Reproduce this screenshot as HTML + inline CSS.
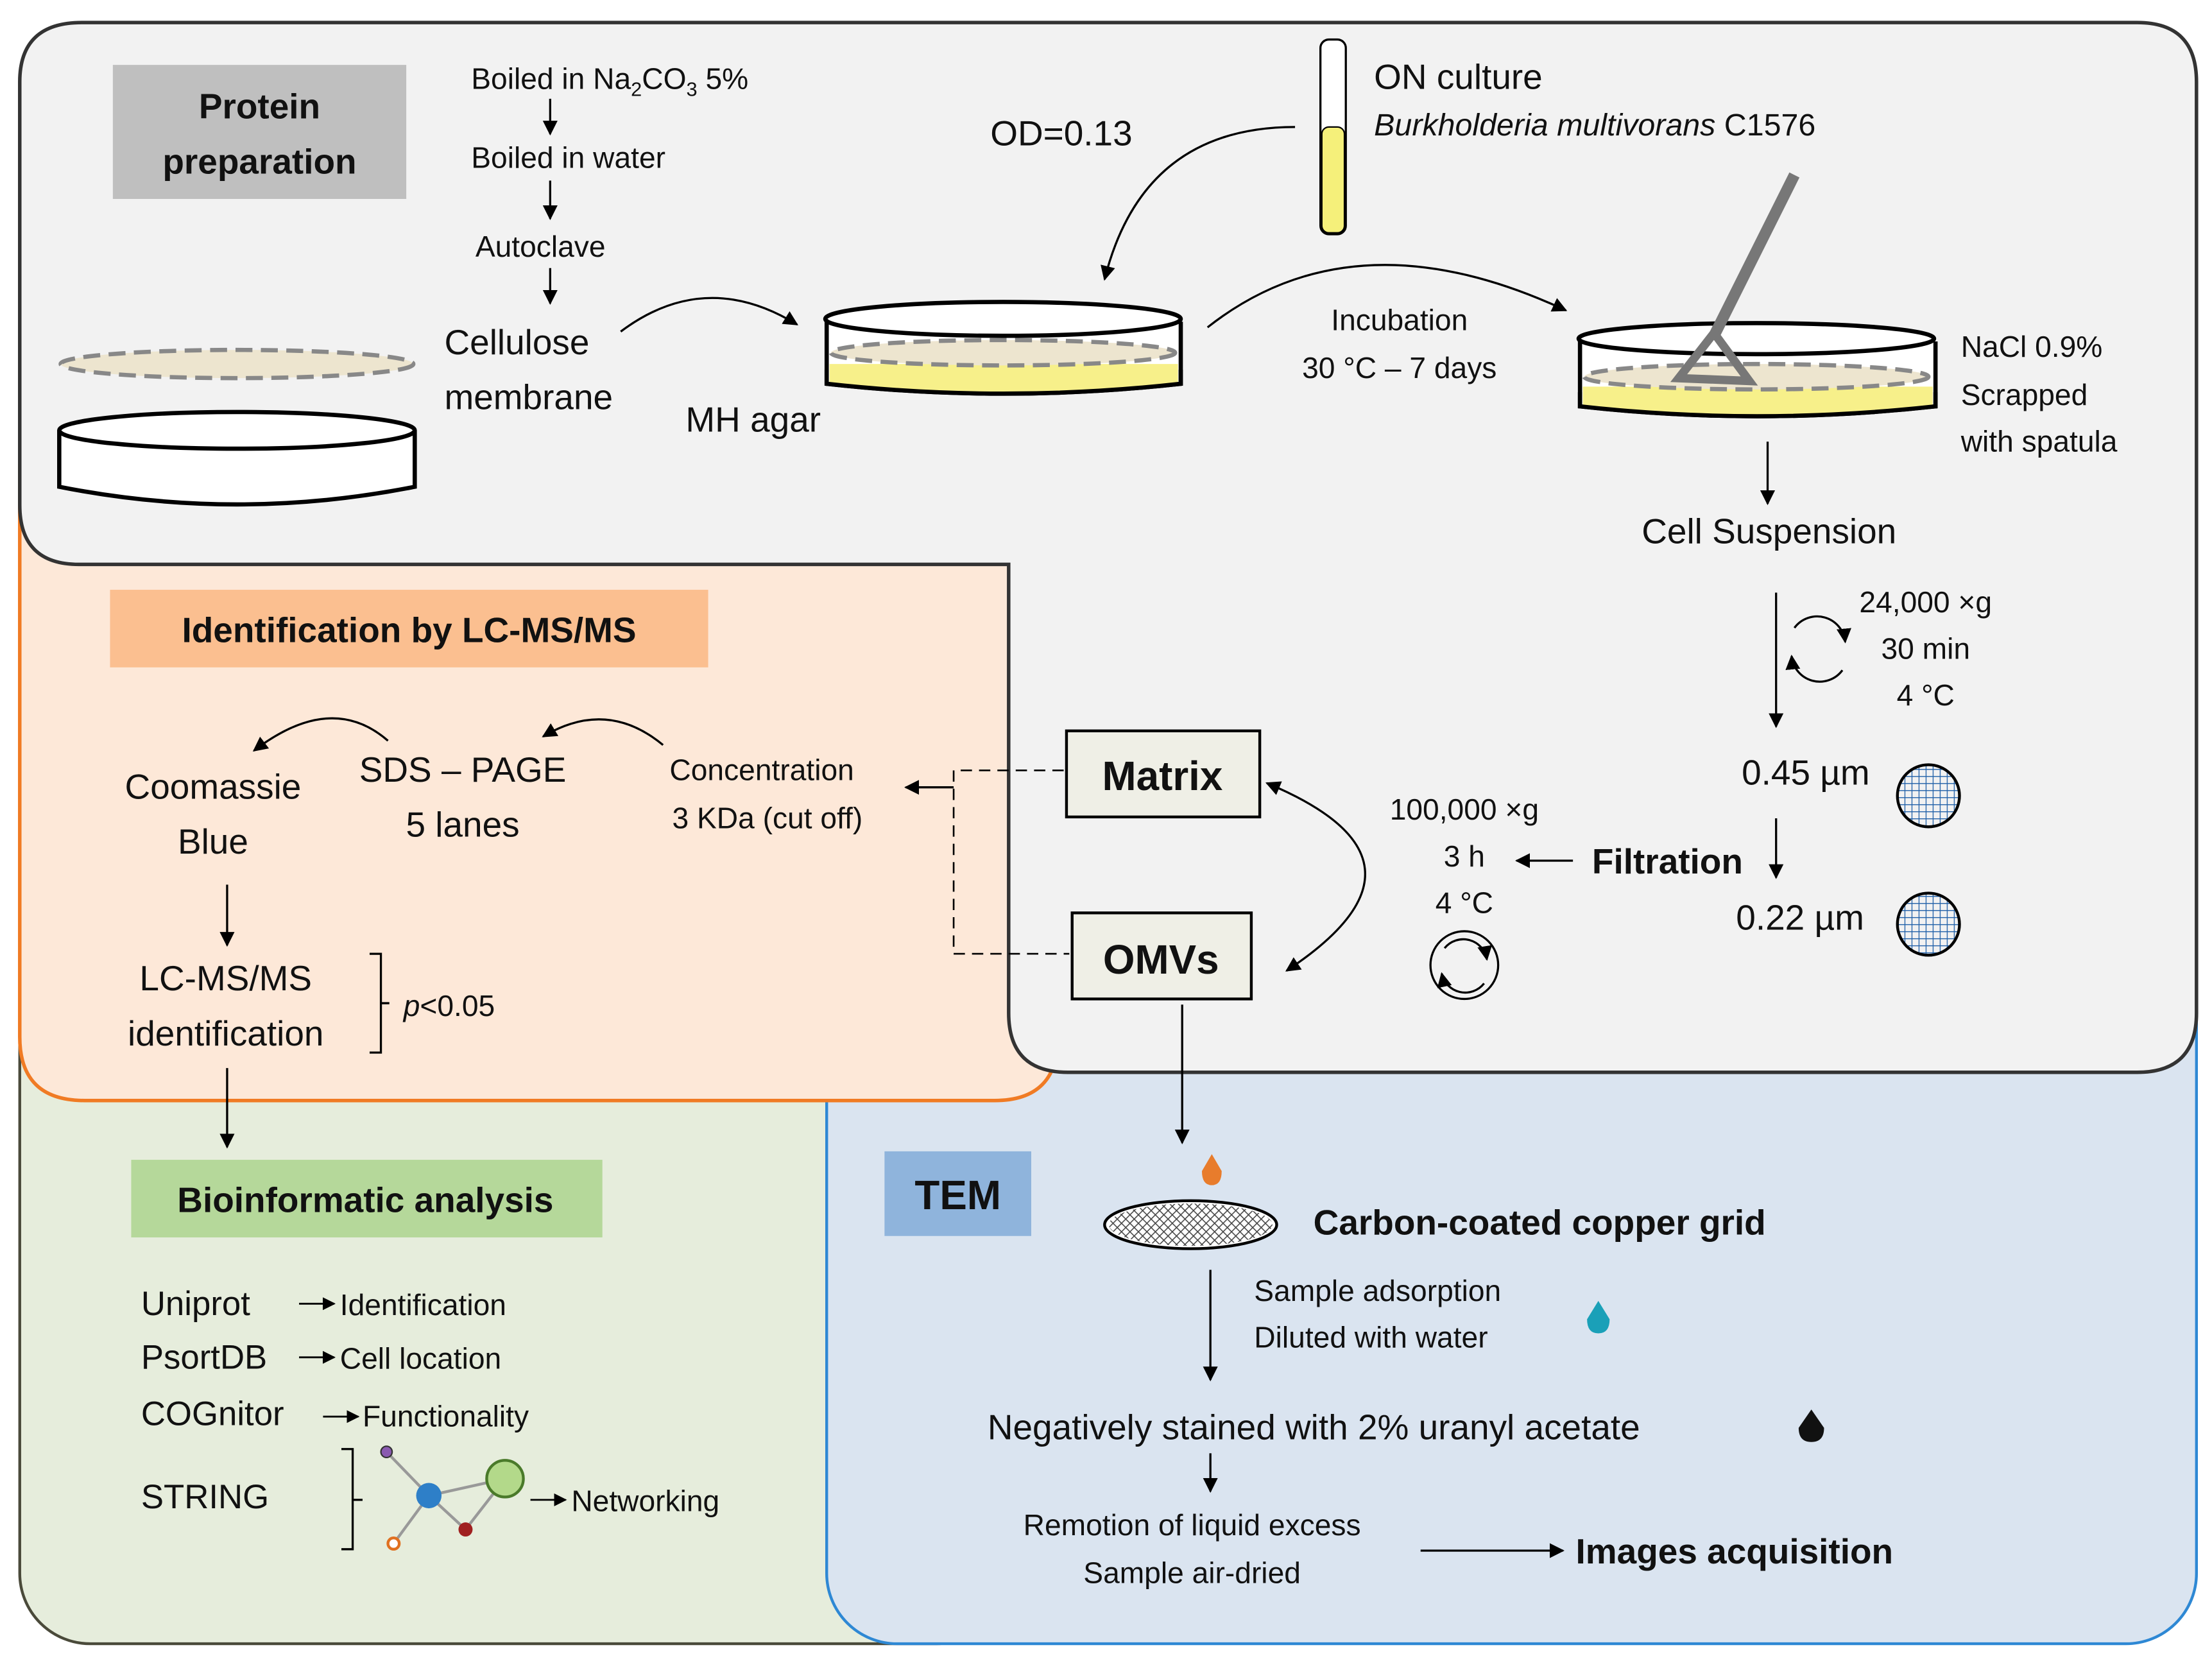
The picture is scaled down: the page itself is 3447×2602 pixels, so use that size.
<!DOCTYPE html>
<html><head><meta charset="utf-8"><style>
html,body{margin:0;padding:0;background:#fff;}
svg{display:block;}
text{font-family:"Liberation Sans",sans-serif;fill:#111;}
.b{font-weight:bold;}
</style></head><body>
<svg width="3447" height="2602" viewBox="0 0 1568 1183.6" preserveAspectRatio="none" xmlns="http://www.w3.org/2000/svg">
<defs>
<marker id="a" viewBox="0 0 10 10" refX="9" refY="5" markerWidth="7" markerHeight="7" orient="auto-start-reverse"><path d="M0,0L10,5L0,10z" fill="#000"/></marker>
<pattern id="grid" width="5" height="5" patternUnits="userSpaceOnUse"><path d="M0,0H5M0,0V5" stroke="#1f5fa8" stroke-width="1.2"/></pattern>
<pattern id="mesh" width="6" height="6" patternUnits="userSpaceOnUse"><path d="M0,0L6,6M6,0L0,6" stroke="#444" stroke-width="0.7"/></pattern>
</defs>
<rect x="14" y="560" width="700" height="605" rx="50" fill="#e6eddc" stroke="#4a4a3a" stroke-width="2"/>
<rect x="586" y="560" width="971" height="605" rx="50" fill="#dae4f0" stroke="#2e88d4" stroke-width="2"/>
<path d="M14,330 H750 V735 Q750,780 705,780 H60 Q14,780 14,735 Z" fill="#fde8d8" stroke="#f07b24" stroke-width="2.5"/>
<path d="M58,16 H1515 Q1557,16 1557,58 V718 Q1557,760 1515,760 H757 Q715,760 715,718 V400 H56 Q14,400 14,358 V58 Q14,16 58,16 Z" fill="#f2f2f2" stroke="#333" stroke-width="2.5"/>

<rect x="80" y="46" width="208" height="95" fill="#bfbfbf"/>
<text x="184" y="84" font-size="25" class="b" text-anchor="middle">Protein</text>
<text x="184" y="123" font-size="25" class="b" text-anchor="middle">preparation</text>
<g font-size="21">
<text x="334" y="63">Boiled in Na<tspan font-size="14" dy="5">2</tspan><tspan dy="-5">CO</tspan><tspan font-size="14" dy="5">3</tspan><tspan dy="-5"> 5%</tspan></text>
<text x="334" y="119">Boiled in water</text>
<text x="337" y="182">Autoclave</text>
</g>
<g stroke="#000" stroke-width="1.5" fill="none" marker-end="url(#a)">
<path d="M390,70V95"/><path d="M390,128V155"/><path d="M390,190V215"/>
</g>
<text x="315" y="251" font-size="25">Cellulose</text>
<text x="315" y="290" font-size="25">membrane</text>
<ellipse cx="168" cy="258" rx="125" ry="10" fill="#ede5cf" stroke="#888" stroke-width="3" stroke-dasharray="12,6"/>
<path d="M42,305 V345 Q168,370 294,345 V305" fill="#fff" stroke="#000" stroke-width="3"/>
<ellipse cx="168" cy="305" rx="126" ry="13" fill="#fff" stroke="#000" stroke-width="3"/>
<path d="M440,235 Q500,190 565,230" stroke="#000" stroke-width="1.5" fill="none" marker-end="url(#a)"/>
<text x="486" y="306" font-size="25">MH agar</text>
<path d="M586,228 V272 Q711,286 837,272 V228" fill="#fff" stroke="#000" stroke-width="3"/>
<path d="M588,258 H835 V272 Q711,284 588,272Z" fill="#f7f08a"/>
<path d="M586,262 V272 Q711,286 837,272 V262" fill="none" stroke="#000" stroke-width="3"/>
<ellipse cx="711" cy="250" rx="122" ry="9" fill="#ede5cf" stroke="#888" stroke-width="3" stroke-dasharray="12,6"/>
<ellipse cx="711" cy="226" rx="126" ry="12" fill="#fff" stroke="#000" stroke-width="3"/>
<rect x="936" y="28" width="18" height="138" rx="6" fill="#fff" stroke="#000" stroke-width="1.5"/>
<rect x="937" y="90" width="16" height="75" rx="5" fill="#f5f07a" stroke="#000" stroke-width="1"/>
<text x="974" y="63" font-size="25">ON culture</text>
<text x="974" y="96" font-size="22" font-style="italic">Burkholderia multivorans <tspan font-style="normal">C1576</tspan></text>
<text x="702" y="103" font-size="25">OD=0.13</text>
<path d="M918,90 Q810,90 783,198" stroke="#000" stroke-width="1.5" fill="none" marker-end="url(#a)"/>
<path d="M856,232 Q960,150 1110,220" stroke="#000" stroke-width="1.5" fill="none" marker-end="url(#a)"/>
<text x="992" y="234" font-size="21" text-anchor="middle">Incubation</text>
<text x="992" y="268" font-size="21" text-anchor="middle">30 °C – 7 days</text>
<path d="M1120,242 V288 Q1245,302 1372,288 V242" fill="#fff" stroke="#000" stroke-width="3"/>
<path d="M1122,274 H1370 V288 Q1245,300 1122,288Z" fill="#f7f08a"/>
<path d="M1120,278 V288 Q1245,302 1372,288 V278" fill="none" stroke="#000" stroke-width="3"/>
<ellipse cx="1245" cy="267" rx="122" ry="9" fill="#ede5cf" stroke="#888" stroke-width="3" stroke-dasharray="12,6"/>
<ellipse cx="1245" cy="240" rx="126" ry="11" fill="#fff" stroke="#000" stroke-width="3"/>
<path d="M1272,124 L1215,238" stroke="#777" stroke-width="8"/>
<path d="M1215,236 L1190,268 L1240,270 Z" fill="none" stroke="#777" stroke-width="6"/>
<text x="1390" y="253" font-size="21">NaCl 0.9%</text>
<text x="1390" y="287" font-size="21">Scrapped</text>
<text x="1390" y="320" font-size="21">with spatula</text>
<path d="M1253,313V357" stroke="#000" stroke-width="1.5" marker-end="url(#a)"/>
<text x="1254" y="385" font-size="25" text-anchor="middle">Cell Suspension</text>
<path d="M1259,420V515" stroke="#000" stroke-width="1.5" marker-end="url(#a)"/>
<path d="M1272,445 A20,20 0 0 1 1308,455" fill="none" stroke="#000" stroke-width="1.5" marker-end="url(#a)"/>
<path d="M1306,475 A20,20 0 0 1 1270,465" fill="none" stroke="#000" stroke-width="1.5" marker-end="url(#a)"/>
<text x="1365" y="434" font-size="21" text-anchor="middle">24,000 ×g</text>
<text x="1365" y="467" font-size="21" text-anchor="middle">30 min</text>
<text x="1365" y="500" font-size="21" text-anchor="middle">4 °C</text>
<text x="1280" y="556" font-size="25" text-anchor="middle">0.45 µm</text>
<circle cx="1367" cy="564" r="22" fill="url(#grid)" stroke="#000" stroke-width="2"/>
<text x="1276" y="659" font-size="25" text-anchor="middle">0.22 µm</text>
<circle cx="1367" cy="655" r="22" fill="url(#grid)" stroke="#000" stroke-width="2"/>
<path d="M1259,580V622" stroke="#000" stroke-width="1.5" marker-end="url(#a)"/>
<text x="1182" y="619" font-size="25" class="b" text-anchor="middle">Filtration</text>
<path d="M1115,610H1075" stroke="#000" stroke-width="1.5" marker-end="url(#a)"/>
<text x="1038" y="581" font-size="21" text-anchor="middle">100,000 ×g</text>
<text x="1038" y="614" font-size="21" text-anchor="middle">3 h</text>
<text x="1038" y="647" font-size="21" text-anchor="middle">4 °C</text>
<circle cx="1038" cy="684" r="24" fill="none" stroke="#000" stroke-width="1.5"/>
<path d="M1024,672 A17,17 0 0 1 1054,680" fill="none" stroke="#000" stroke-width="1.5" marker-end="url(#a)"/>
<path d="M1052,697 A17,17 0 0 1 1022,690" fill="none" stroke="#000" stroke-width="1.5" marker-end="url(#a)"/>
<path d="M898,555 Q1030,610 912,688" stroke="#000" stroke-width="1.5" fill="none" marker-start="url(#a)" marker-end="url(#a)"/>
<rect x="756" y="518" width="137" height="61" fill="#efefe6" stroke="#000" stroke-width="2"/>
<text x="824" y="560" font-size="29" class="b" text-anchor="middle">Matrix</text>
<rect x="760" y="647" width="127" height="61" fill="#efefe6" stroke="#000" stroke-width="2"/>
<text x="823" y="690" font-size="29" class="b" text-anchor="middle">OMVs</text>
<path d="M754,546 H676 V676 H758" stroke="#000" stroke-width="1.2" stroke-dasharray="8,5" fill="none"/>
<path d="M676,558H642" stroke="#000" stroke-width="1.5" marker-end="url(#a)"/>

<rect x="78" y="418" width="424" height="55" fill="#fbbf90"/>
<text x="290" y="455" font-size="25" class="b" text-anchor="middle">Identification by LC-MS/MS</text>
<text x="540" y="553" font-size="21" text-anchor="middle">Concentration</text>
<text x="544" y="587" font-size="21" text-anchor="middle">3 KDa (cut off)</text>
<text x="328" y="554" font-size="25" text-anchor="middle">SDS – PAGE</text>
<text x="328" y="593" font-size="25" text-anchor="middle">5 lanes</text>
<text x="151" y="566" font-size="25" text-anchor="middle">Coomassie</text>
<text x="151" y="605" font-size="25" text-anchor="middle">Blue</text>
<path d="M470,528 Q430,495 385,522" stroke="#000" stroke-width="1.5" fill="none" marker-end="url(#a)"/>
<path d="M275,525 Q235,490 180,532" stroke="#000" stroke-width="1.5" fill="none" marker-end="url(#a)"/>
<path d="M161,627V670" stroke="#000" stroke-width="1.5" marker-end="url(#a)"/>
<text x="160" y="702" font-size="25" text-anchor="middle">LC-MS/MS</text>
<text x="160" y="741" font-size="25" text-anchor="middle">identification</text>
<path d="M262,676 H270 V746 H262 M270,711 H276" stroke="#000" stroke-width="1.5" fill="none"/>
<text x="286" y="720" font-size="21"><tspan font-style="italic">p</tspan>&lt;0.05</text>
<path d="M161,757V813" stroke="#000" stroke-width="1.5" marker-end="url(#a)"/>

<rect x="93" y="822" width="334" height="55" fill="#b5d89a"/>
<text x="259" y="859" font-size="25" class="b" text-anchor="middle">Bioinformatic analysis</text>
<g font-size="24">
<text x="100" y="932">Uniprot</text>
<text x="100" y="970">PsortDB</text>
<text x="100" y="1010">COGnitor</text>
<text x="100" y="1069">STRING</text>
</g>
<g font-size="21">
<text x="241" y="932">Identification</text>
<text x="241" y="970">Cell location</text>
<text x="257" y="1011">Functionality</text>
<text x="405" y="1071">Networking</text>
</g>
<g stroke="#000" stroke-width="1.3" marker-end="url(#a)">
<path d="M212,924H237"/><path d="M212,962H237"/><path d="M229,1004H254"/><path d="M376,1063H401"/>
</g>
<path d="M242,1027 H250 V1098 H242 M250,1063 H257" stroke="#000" stroke-width="1.5" fill="none"/>
<path d="M274,1029L304,1060L358,1048M304,1060L279,1094M304,1060L330,1084L358,1048" stroke="#999" stroke-width="2" fill="none"/>
<circle cx="274" cy="1029" r="4" fill="#8a5ab0" stroke="#333"/>
<circle cx="304" cy="1060" r="9" fill="#2e7fc8"/>
<circle cx="358" cy="1048" r="13" fill="#b3d98a" stroke="#4a7a2a" stroke-width="2"/>
<circle cx="279" cy="1094" r="4" fill="#fff" stroke="#e07020" stroke-width="2"/>
<circle cx="330" cy="1084" r="5" fill="#a02020"/>

<rect x="627" y="816" width="104" height="60" fill="#8fb4dc"/>
<text x="679" y="857" font-size="29" class="b" text-anchor="middle">TEM</text>
<path d="M838,712V810" stroke="#000" stroke-width="1.5" marker-end="url(#a)"/>
<path d="M859,818 L866,830 Q866,840 859,840 Q852,840 852,830Z" fill="#e87c2c"/>
<ellipse cx="844" cy="868" rx="61" ry="17" fill="#fff" stroke="#000" stroke-width="2"/>
<ellipse cx="844" cy="868" rx="58" ry="15" fill="url(#mesh)"/>
<text x="931" y="875" font-size="25" class="b">Carbon-coated copper grid</text>
<path d="M858,900V978" stroke="#000" stroke-width="1.5" marker-end="url(#a)"/>
<text x="889" y="922" font-size="21">Sample adsorption</text>
<text x="889" y="955" font-size="21">Diluted with water</text>
<path d="M1133,922 L1141,935 Q1141,945 1133,945 Q1125,945 1125,935Z" fill="#1aa0b8"/>
<text x="700" y="1020" font-size="25">Negatively stained with 2% uranyl acetate</text>
<path d="M1284,999 L1293,1012 Q1293,1022 1284,1022 Q1275,1022 1275,1012Z" fill="#111"/>
<path d="M858,1030V1057" stroke="#000" stroke-width="1.5" marker-end="url(#a)"/>
<text x="845" y="1088" font-size="21" text-anchor="middle">Remotion of liquid excess</text>
<text x="845" y="1122" font-size="21" text-anchor="middle">Sample air-dried</text>
<path d="M1007,1099H1108" stroke="#000" stroke-width="1.5" marker-end="url(#a)"/>
<text x="1117" y="1108" font-size="25" class="b">Images acquisition</text>
</svg>
</body></html>
